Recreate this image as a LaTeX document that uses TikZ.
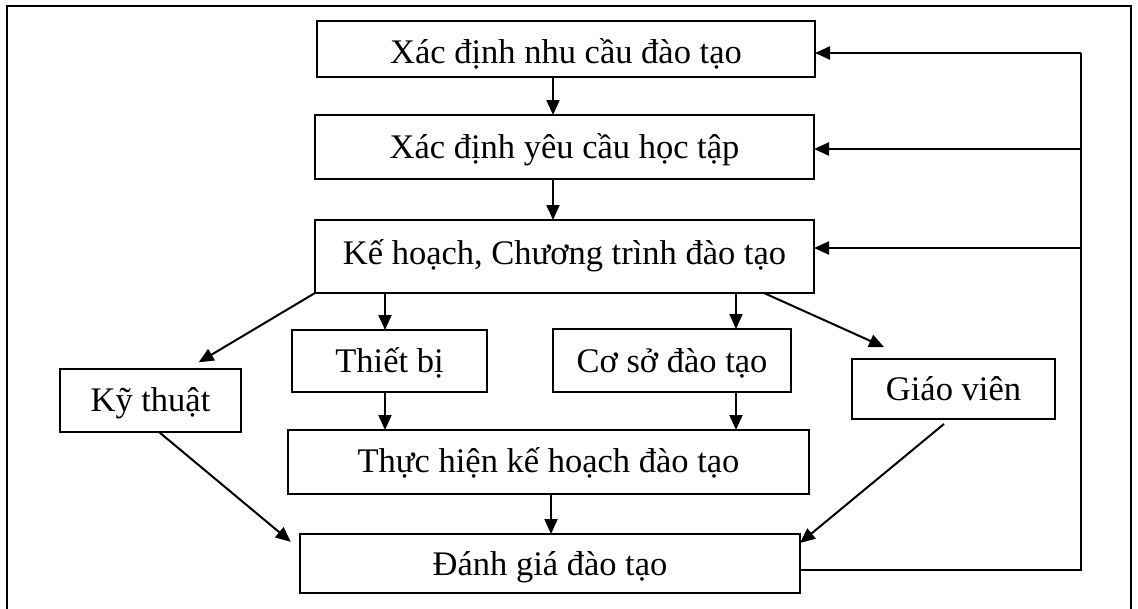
\documentclass[tikz,border=0pt]{standalone}
\usepackage{fontspec}
\setmainfont{Liberation Serif}
\usetikzlibrary{arrows.meta}
\tikzset{
  box/.style={draw, line width=2pt, inner sep=0pt, outer sep=0pt},
  txt/.style={anchor=base, inner sep=0pt, font=\fontsize{34.5}{40}\selectfont},
  ln/.style={line width=2pt},
  arr/.style={ln, -{Triangle[length=15pt,width=13pt]}},
  frame/.style={line width=2pt},
}
\begin{document}
\begin{tikzpicture}[x=1pt,y=-1pt]
\useasboundingbox (0,0) rectangle (1138,608);
% outer frame (its lower edge lies below the page)
\draw[frame] (7,614) -- (7,6) -- (1131,6) -- (1131,614);

% boxes
\node[box, minimum width=498, minimum height=56] (n1) at (566,49) {};
\node[box, minimum width=499, minimum height=64] (n2) at (564.5,147) {};
\node[box, minimum width=499, minimum height=73] (n3) at (564.5,256.5) {};
\node[box, minimum width=181, minimum height=63] (ky) at (150.5,400.5) {};
\node[box, minimum width=195, minimum height=62] (tb) at (389.5,361) {};
\node[box, minimum width=238, minimum height=63] (cs) at (672,360.5) {};
\node[box, minimum width=203, minimum height=60] (gv) at (953.5,389) {};
\node[box, minimum width=521, minimum height=64] (th) at (548.5,462) {};
\node[box, minimum width=500, minimum height=59] (dg) at (550,563.5) {};

% labels
\node[txt] (t1) at (566,63) {Xác định nhu cầu đào tạo};
\node[txt] (t2) at (564.5,158) {Xác định yêu cầu học tập};
\node[txt] (t3) at (564.5,264) {Kế hoạch, Chương trình đào tạo};
\node[txt] (t4) at (150.5,411) {Kỹ thuật};
\node[txt] (t5) at (389.5,372) {Thiết bị};
\node[txt] (t6) at (672,372) {Cơ sở đào tạo};
\node[txt] (t7) at (953.5,400.5) {Giáo viên};
\node[txt] (t8) at (548.5,472.5) {Thực hiện kế hoạch đào tạo};
\node[txt] (t9) at (550,575.5) {Đánh giá đào tạo};

% vertical guide positions
\coordinate (va) at (553,0);
\coordinate (vb) at (385,0);
\coordinate (vc) at (736,0);
\coordinate (vd) at (551,0);

% main flow
\draw[arr] (va |- n1.south) -- (va |- n2.north);
\draw[arr] (va |- n2.south) -- (va |- n3.north);
\draw[arr] (vb |- n3.south) -- (vb |- tb.north);
\draw[arr] (vc |- n3.south) -- (vc |- cs.north);
\draw[arr] (vb |- tb.south) -- (vb |- th.north);
\draw[arr] (vc |- cs.south) -- (vc |- th.north);
\draw[arr] (vd |- th.south) -- (vd |- dg.north);

% slanted connectors
\draw[arr, shorten >=13pt] (n3.south west) -- ([xshift=37pt]ky.north);
\draw[arr, shorten >=29pt] ([xshift=199.5pt]n3.south) -- ([xshift=-43pt]gv.north);
\draw[arr, shorten >=12pt] ([xshift=8.5pt]ky.south) -- ([yshift=14pt]dg.west);
\draw[arr, shorten <=7.8pt] ([xshift=-3.5pt]gv.south) -- ([yshift=20.5pt]dg.east);

% feedback loop
\coordinate (fb0) at (1081,570);
\coordinate (fb1) at (1081,53);
\coordinate (fb2) at (1081,149);
\coordinate (fb3) at (1081,248);
\draw[ln] (dg.east |- fb0) -- (fb0) -- (fb1);
\draw[arr] (fb1) -- (fb1 -| n1.east);
\draw[arr] (fb2) -- (fb2 -| n2.east);
\draw[arr] (fb3) -- (fb3 -| n3.east);
\end{tikzpicture}
\end{document}
